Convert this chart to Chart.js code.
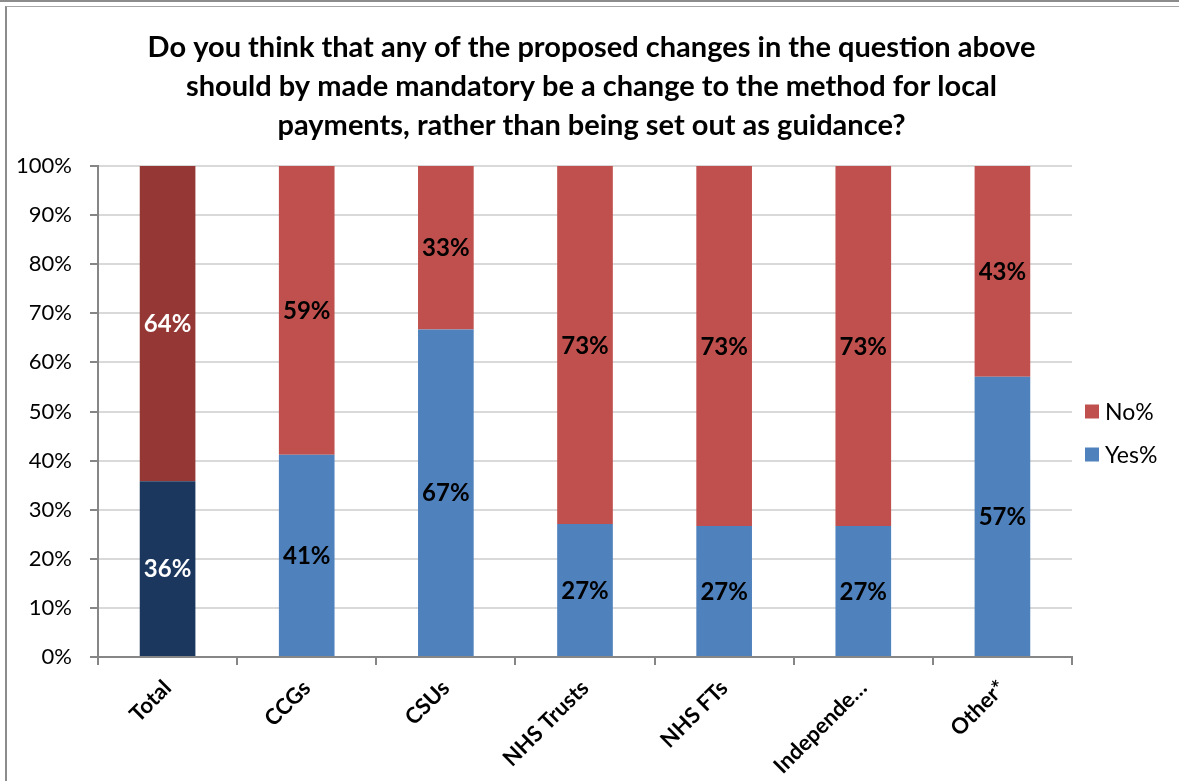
<!DOCTYPE html>
<html>
<head>
<meta charset="utf-8">
<script src="https://cdn.jsdelivr.net/npm/chart.js@4"></script>
<style>
  html, body { margin: 0; padding: 0; background: #fff; }
  body { width: 1179px; height: 781px; overflow: hidden; position: relative; }
  #frame { position: absolute; left: 0; top: 0; width: 1179px; height: 2px; background: #8c8c8c; }
  #box { position: absolute; left: 5px; top: 6px; width: 1180px; height: 780px; border-left: 2px solid #8c8c8c; border-top: 1px solid #a6a6a6; }
  #wrap { position: absolute; left: 0; top: 0; width: 1179px; height: 781px; }
</style>
</head>
<body>
<div id="frame"></div>
<div id="box"></div>
<div id="wrap"><canvas id="chart"></canvas></div>
<script>
const categories = ["Total", "CCGs", "CSUs", "NHS Trusts", "NHS FTs", "Independe\u2026", "Other*"];
const yesPct = [35.8, 41.2, 66.7, 27.1, 26.7, 26.7, 57.1];
const noPct = [64.2, 58.8, 33.3, 72.9, 73.3, 73.3, 42.9];
const yTicks = [0, 10, 20, 30, 40, 50, 60, 70, 80, 90, 100];

const titleLines = [
    "Do you think that any of the proposed changes in the question above",
    "should by made mandatory be a change to the method for local",
    "payments, rather than being set out as guidance?"
];

const FONT = "Lato, 'Open Sans', sans-serif";
const YES = "#4f81bd", NO = "#c0504d";

// Total column uses darker shades
const yesColors = categories.map((c, i) => i === 0 ? "#1b375e" : YES);
const noColors = categories.map((c, i) => i === 0 ? "#953735" : NO);

// Percent labels in the middle of each segment
const segmentLabels = {
    id: "segmentLabels",
    afterDatasetsDraw(chart) {
        const ctx = chart.ctx;
        ctx.save();
        ctx.font = "bold 24px " + FONT;
        ctx.textAlign = "center";
        ctx.textBaseline = "middle";
        chart.data.datasets.forEach((ds, di) => {
            const meta = chart.getDatasetMeta(di);
            meta.data.forEach((bar, i) => {
                const mid = (bar.y + bar.base) / 2;
                ctx.fillStyle = i === 0 ? "#ffffff" : "#000000";
                ctx.fillText(Math.round(ds.data[i]) + "%", bar.x, mid + 1);
            });
        });
        ctx.restore();
    }
};

// Title centred across the whole canvas, not just the plot
const centredTitle = {
    id: "centredTitle",
    afterDraw(chart) {
        const ctx = chart.ctx;
        ctx.save();
        ctx.font = "bold 29px " + FONT;
        ctx.fillStyle = "#000";
        ctx.textAlign = "center";
        ctx.textBaseline = "middle";
        titleLines.forEach((line, i) => {
            ctx.fillText(line, chart.width / 2 + 2, 48 + i * 39);
        });
        ctx.restore();
    }
};

// Legend to the right of the plot, No% above Yes%
const sideLegend = {
    id: "sideLegend",
    afterDraw(chart) {
        const ctx = chart.ctx;
        const area = chart.chartArea;
        const x = area.right + 13;
        const cy = (area.top + area.bottom) / 2 + 21;
        const items = [
            { text: "No%", color: NO, y: cy - 21 },
            { text: "Yes%", color: YES, y: cy + 22 }
        ];
        ctx.save();
        ctx.font = "23px " + FONT;
        ctx.textBaseline = "middle";
        items.forEach(it => {
            ctx.fillStyle = it.color;
            ctx.fillRect(x, it.y - 7, 14, 14);
            ctx.fillStyle = "#000";
            ctx.fillText(it.text, x + 20, it.y + 1);
        });
        ctx.restore();
    }
};

const ctx = document.getElementById("chart").getContext("2d");
new Chart(ctx, {
    type: "bar",
    data: {
        labels: categories,
        datasets: [
            { label: "Yes%", data: yesPct, backgroundColor: yesColors, barPercentage: 0.8, categoryPercentage: 0.5 },
            { label: "No%", data: noPct, backgroundColor: noColors, barPercentage: 0.8, categoryPercentage: 0.5 }
        ]
    },
    options: {
        responsive: true,
        maintainAspectRatio: false,
        animation: false,
        layout: { padding: { left: 0, right: 107, top: 166, bottom: 0 } },
        scales: {
            x: {
                stacked: true,
                afterFit(scale) { scale.height = 124; },
                grid: { offset: true, drawOnChartArea: false, color: "#868686", tickLength: 8, lineWidth: 2 },
                border: { color: "#868686", width: 2 },
                ticks: {
                    color: "#000",
                    font: { family: FONT, size: 22, weight: "bold" },
                    maxRotation: 45, minRotation: 45, autoSkip: false, padding: 10
                }
            },
            y: {
                stacked: true,
                min: 0, max: 100,
                afterFit(scale) { scale.width = 98; },
                afterBuildTicks(scale) { scale.ticks = yTicks.map(v => ({ value: v })); },
                grid: { color: "#d9d9d9", lineWidth: 2, tickColor: "#868686", tickLength: 8 },
                border: { color: "#868686", width: 2 },
                ticks: {
                    color: "#000",
                    font: { family: FONT, size: 22 },
                    padding: 18,
                    callback: v => v + "%"
                }
            }
        },
        plugins: {
            title: { display: false },
            legend: { display: false },
            tooltip: { enabled: false }
        }
    },
    plugins: [segmentLabels, centredTitle, sideLegend]
});
</script>
</body>
</html>
